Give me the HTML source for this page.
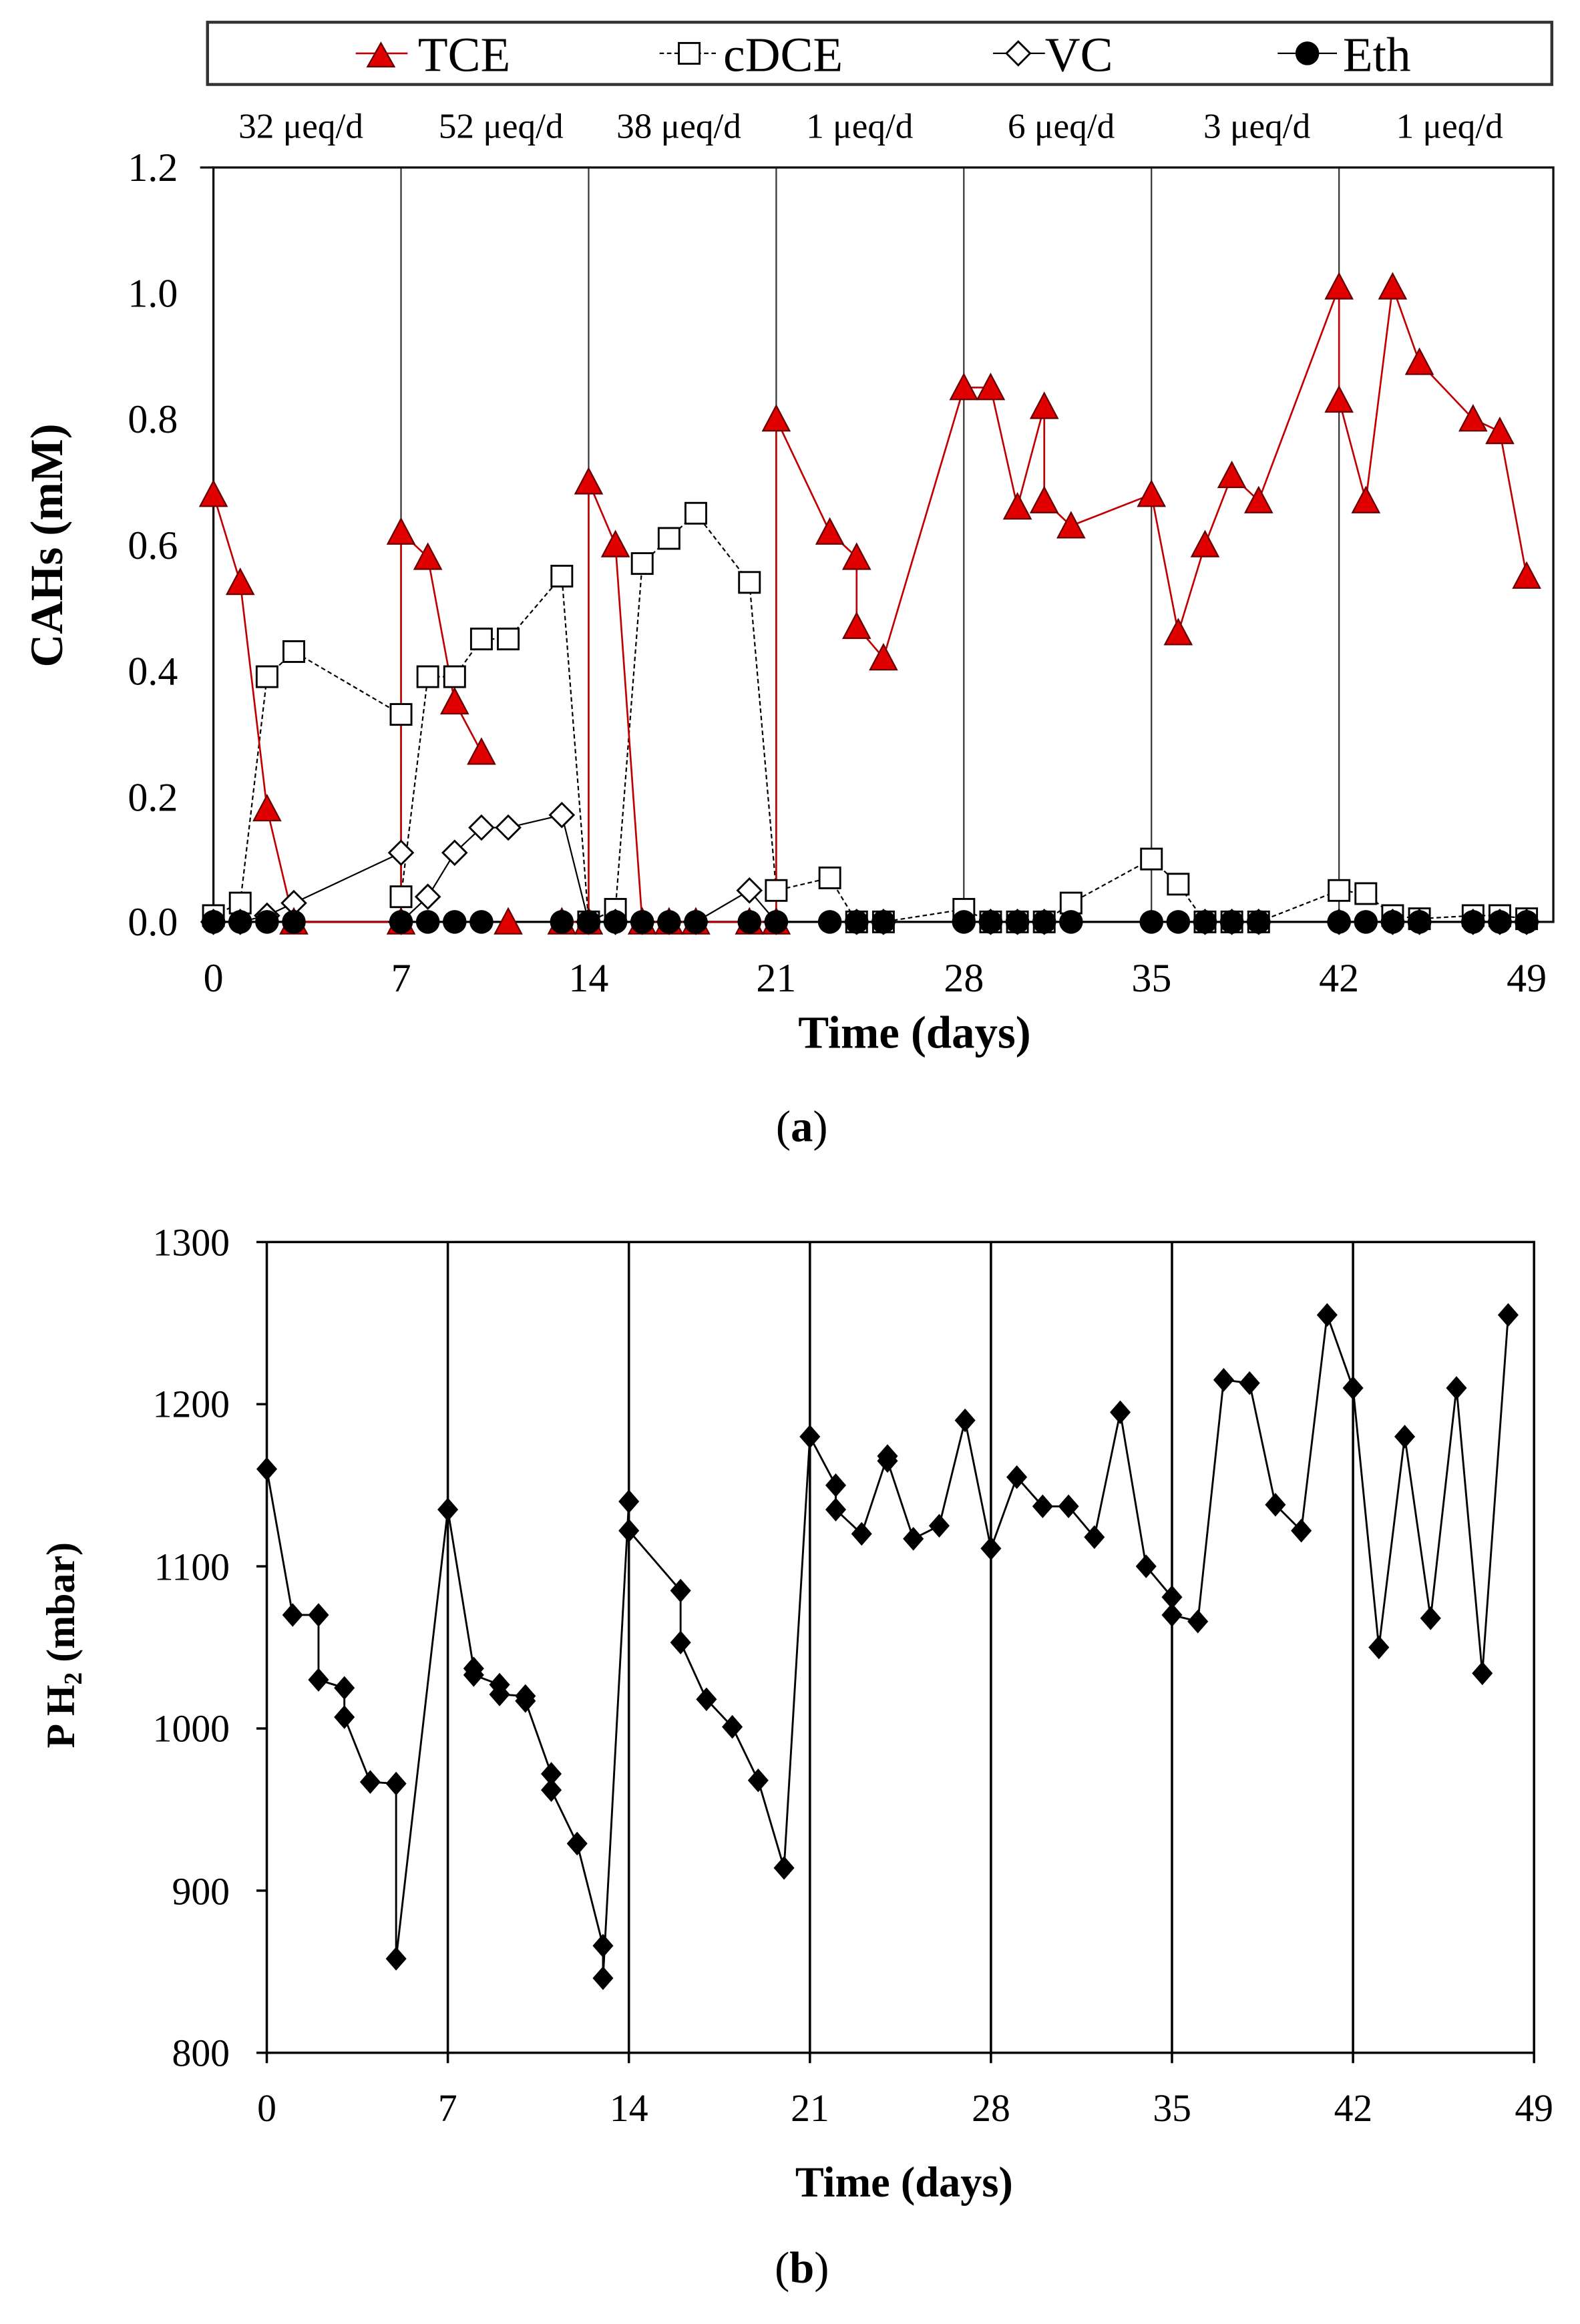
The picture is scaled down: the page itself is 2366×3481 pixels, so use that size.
<!DOCTYPE html>
<html><head><meta charset="utf-8"><style>html,body{margin:0;padding:0;background:#fff}svg{display:block}text{font-family:"Liberation Serif",serif;fill:#000}</style></head>
<body>
<svg id="s" width="2366" height="3481" viewBox="0 0 1066 1568" preserveAspectRatio="none" xmlns="http://www.w3.org/2000/svg">
<rect x="140" y="15" width="907" height="42" fill="none" stroke="#333" stroke-width="2"/>
<line x1="240" y1="36" x2="275" y2="36" stroke="#c00000" stroke-width="1.2"/><polygon points="248,45 266,45 257,29" fill="#e00000" stroke="#600" stroke-width="1"/>
<text x="282" y="48" font-size="33">TCE</text>
<line x1="445" y1="36" x2="485" y2="36" stroke="#000" stroke-width="1" stroke-dasharray="3,2"/><rect x="458" y="29" width="14" height="14" fill="#fff" stroke="#000" stroke-width="1.3"/>
<text x="488" y="48" font-size="33">cDCE</text>
<line x1="670" y1="36" x2="705" y2="36" stroke="#000" stroke-width="1"/><polygon points="687,28 695,36 687,44 679,36" fill="#fff" stroke="#000" stroke-width="1.3"/>
<text x="705" y="48" font-size="33">VC</text>
<line x1="862" y1="36" x2="902" y2="36" stroke="#000" stroke-width="1"/><circle cx="882" cy="36" r="8" fill="#000"/>
<text x="906" y="48" font-size="33">Eth</text>
<g font-size="24" text-anchor="middle">
<text x="203" y="93">32 μeq/d</text><text x="338" y="93">52 μeq/d</text><text x="458" y="93">38 μeq/d</text><text x="580" y="93">1 μeq/d</text><text x="716" y="93">6 μeq/d</text><text x="848" y="93">3 μeq/d</text><text x="978" y="93">1 μeq/d</text>
</g>
<g font-size="27" text-anchor="end">
<text x="120" y="122">1.2</text><text x="120" y="207">1.0</text><text x="120" y="292">0.8</text><text x="120" y="377">0.6</text><text x="120" y="462">0.4</text><text x="120" y="547">0.2</text><text x="120" y="631">0.0</text>
</g>
<g font-size="27" text-anchor="middle">
<text x="144" y="669">0</text><text x="270.6" y="669">7</text><text x="397.1" y="669">14</text><text x="523.7" y="669">21</text><text x="650.3" y="669">28</text><text x="776.9" y="669">35</text><text x="903.4" y="669">42</text><text x="1030" y="669">49</text>
</g>
<text x="617" y="707" font-size="31" font-weight="bold" text-anchor="middle">Time (days)</text>
<text transform="translate(42,368) rotate(-90)" font-size="31" font-weight="bold" text-anchor="middle">CAHs (mM)</text>
<text x="541" y="770" font-size="30" text-anchor="middle">(<tspan font-weight="bold">a</tspan>)</text>
<g font-size="26" text-anchor="end">
<text x="155" y="847">1300</text><text x="155" y="956">1200</text><text x="155" y="1066">1100</text><text x="155" y="1175">1000</text><text x="155" y="1285">900</text><text x="155" y="1394">800</text>
</g>
<g font-size="26" text-anchor="middle">
<text x="180" y="1431">0</text><text x="302" y="1431">7</text><text x="424.3" y="1431">14</text><text x="546.5" y="1431">21</text><text x="668.6" y="1431">28</text><text x="790.8" y="1431">35</text><text x="913" y="1431">42</text><text x="1035" y="1431">49</text>
</g>
<text x="610" y="1482" font-size="29" font-weight="bold" text-anchor="middle">Time (days)</text>
<text transform="translate(50,1110) rotate(-90)" font-size="27" font-weight="bold" text-anchor="middle">P H<tspan font-size="17" dy="5">2</tspan><tspan dy="-5"> (mbar)</tspan></text>
<text x="541" y="1540" font-size="30" text-anchor="middle">(<tspan font-weight="bold">b</tspan>)</text>
<g id="g"></g>
</svg>
<script>
var NS="http://www.w3.org/2000/svg",g=document.getElementById("g");
function el(n,a){var e=document.createElementNS(NS,n);for(var k in a)e.setAttribute(k,a[k]);g.appendChild(e);return e;}
function ax(d){return 144+d*886/49}function ay(v){return 622-v*509/1.2}
for(var d=7;d<49;d+=7)el("line",{x1:ax(d),y1:113,x2:ax(d),y2:622,stroke:"#333","stroke-width":1});
el("rect",{x:144,y:113,width:904,height:509,fill:"none",stroke:"#111","stroke-width":1.5});
el("line",{x1:135,y1:113,x2:144,y2:113,stroke:"#111","stroke-width":1.5});
function pl(pts,f,st){el("polyline",Object.assign({points:pts.map(function(p){return f[0](p[0])+","+f[1](p[1])}).join(" "),fill:"none"},st));}
var A=[ax,ay];
var tce1=[[0,.68],[1,.54],[2,.18],[3,0],[7,0],[7,.62],[8,.58],[9,.35],[10,.27]];
var tce2=[[13,0],[14,0],[14,.70],[15,.60],[16,0],[17,0],[18,0],[20,0],[21,0],[21,.80],[23,.62],[24,.58],[24,.47],[25,.42],[28,.85],[29,.85],[30,.66],[31,.82],[31,.67],[32,.63],[35,.68],[36,.46],[37,.60],[38,.71],[39,.67],[42,1.01],[42,.83],[43,.67],[44,1.01],[45,.89],[47,.80],[48,.78],[49,.55]];
var cd=[[0,.01],[1,.03],[2,.39],[3,.43],[7,.33],[7,.04],[8,.39],[9,.39],[10,.45],[11,.45],[13,.55],[14,0],[15,.02],[16,.57],[17,.61],[18,.65],[20,.54],[21,.05],[23,.07],[24,0],[25,0],[28,.02],[29,0],[30,0],[31,0],[32,.03],[35,.10],[36,.06],[37,0],[38,0],[39,0],[42,.05],[43,.045],[44,.01],[45,.005],[47,.01],[48,.01],[49,.005]];
var vc=[[0,0],[1,0],[2,.01],[3,.03],[7,.11],[7,0],[8,.04],[9,.11],[10,.15],[11,.15],[13,.17],[14,0],[15,0],[16,0],[17,0],[18,0],[20,.05],[21,0],[24,0],[25,0],[29,0],[30,0],[31,0],[37,0],[38,0],[39,0],[42,0],[44,0],[45,0],[47,0],[48,0],[49,0]];
var eth=[0,1,2,3,7,8,9,10,13,14,15,16,17,18,20,21,23,24,25,28,29,30,31,32,35,36,37,38,39,42,43,44,45,47,48,49];
pl([[0,0],[49,0]],A,{stroke:"#000","stroke-width":1.2});
pl(cd,A,{stroke:"#000","stroke-width":1,"stroke-dasharray":"3,2"});
pl(vc,A,{stroke:"#000","stroke-width":1});
pl(tce1,A,{stroke:"#c00000","stroke-width":1.2});pl(tce2,A,{stroke:"#c00000","stroke-width":1.2});
cd.forEach(function(p){el("rect",{x:ax(p[0])-7,y:ay(p[1])-7,width:14,height:14,fill:"#fff",stroke:"#000","stroke-width":1.3});});
vc.forEach(function(p){var x=ax(p[0]),y=ay(p[1]);el("polygon",{points:x+","+(y-8)+" "+(x+8)+","+y+" "+x+","+(y+8)+" "+(x-8)+","+y,fill:"#fff",stroke:"#000","stroke-width":1.3});});
tce1.concat(tce2,[[11,0]]).forEach(function(p){var x=ax(p[0]),y=ay(p[1]);el("polygon",{points:(x-9)+","+(y+8)+" "+(x+9)+","+(y+8)+" "+x+","+(y-9),fill:"#e00000",stroke:"#600","stroke-width":1});});
eth.forEach(function(d){el("circle",{cx:ax(d),cy:ay(0),r:8,fill:"#000"});});
function bx(d){return 180+d*855/49}function by(v){return 1385-(v-800)*547/500}
var B=[bx,by];
for(var d=7;d<49;d+=7)el("line",{x1:bx(d),y1:838,x2:bx(d),y2:1385,stroke:"#000","stroke-width":1.6});
el("polyline",{points:"180,838 1035,838 1035,1385 180,1385 180,838",fill:"none",stroke:"#000","stroke-width":1.6});
for(var i=0;i<=5;i++)el("line",{x1:173,y1:838+i*109.4,x2:180,y2:838+i*109.4,stroke:"#000","stroke-width":1.6});
for(var d=0;d<=49;d+=7)el("line",{x1:bx(d),y1:1385,x2:bx(d),y2:1392,stroke:"#000","stroke-width":1.6});
var ph=[[0,1160],[1,1070],[2,1070],[2,1030],[3,1025],[3,1007],[4,967],[5,966],[5,858],[7,1135],[8,1037],[8,1033],[9,1027],[9,1021],[10,1020],[10,1017],[11,972],[11,962],[12,929],[13,866],[13,846],[14,1140],[14,1122],[16,1085],[16,1053],[17,1018],[18,1001],[19,968],[20,914],[21,1180],[22,1150],[22,1135],[23,1120],[24,1168],[24,1165],[25,1117],[26,1125],[27,1190],[28,1111],[29,1155],[30,1137],[31,1137],[32,1118],[33,1195],[34,1100],[35,1081],[35,1070],[36,1066],[37,1215],[38,1213],[39,1138],[40,1122],[41,1255],[42,1210],[43,1050],[44,1180],[45,1068],[46,1210],[47,1034],[48,1255]];
pl(ph,B,{stroke:"#000","stroke-width":1.3});
ph.forEach(function(p){var x=bx(p[0]),y=by(p[1]);el("polygon",{points:x+","+(y-8)+" "+(x+7)+","+y+" "+x+","+(y+8)+" "+(x-7)+","+y,fill:"#000"});});
</script>
</body></html>
